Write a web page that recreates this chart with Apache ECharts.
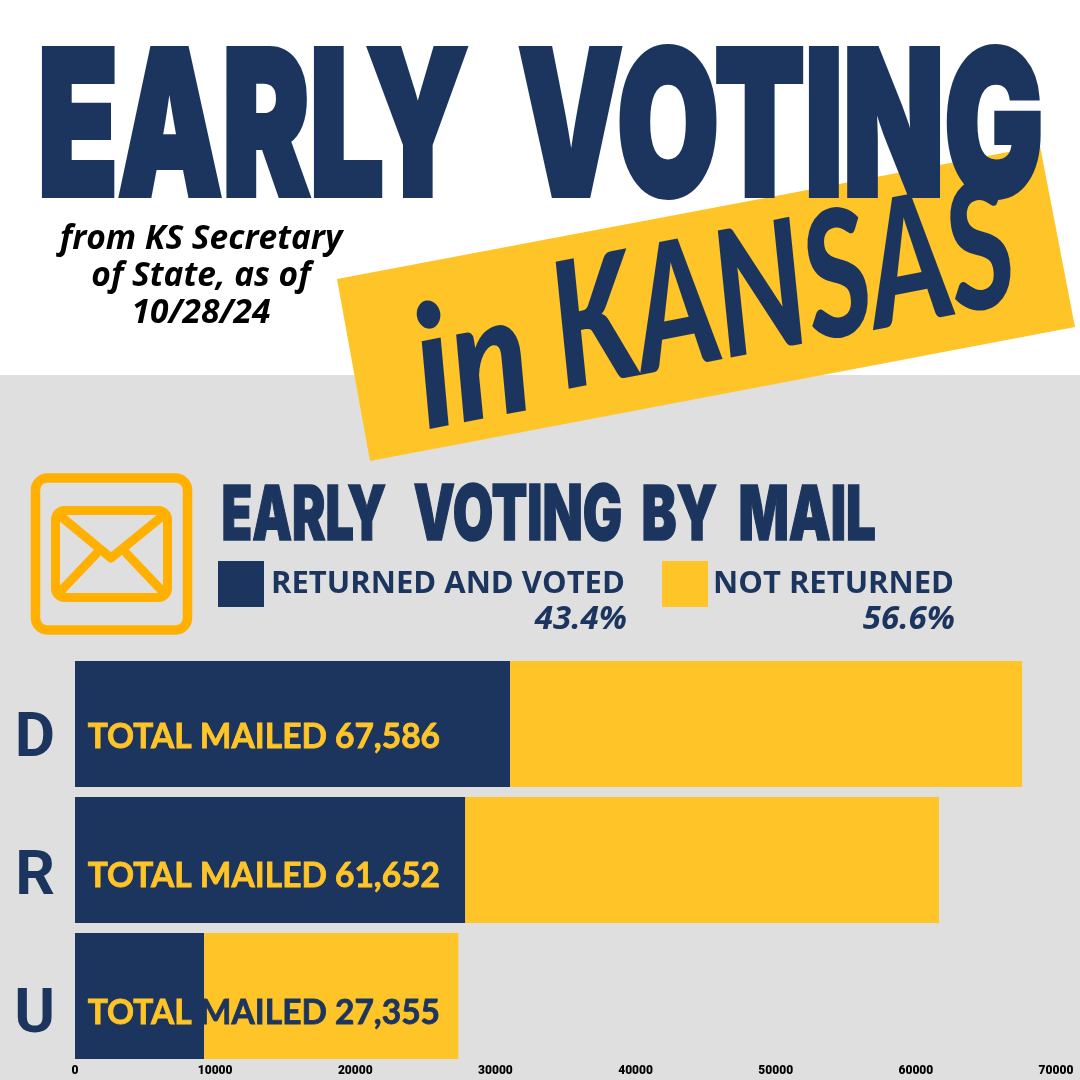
<!DOCTYPE html>
<html><head><meta charset="utf-8">
<style>html,body{margin:0;padding:0;background:#fff}#c{width:1080px;height:1080px}</style>
<script src="https://cdn.jsdelivr.net/npm/echarts@6/dist/echarts.min.js"></script>
</head><body><div id="c"></div>
<script>
const categories = ['D', 'R', 'U'];
const totals = [67586, 61652, 27355];
const returned = [31050, 27850, 9220];
const notReturned = [36536, 33802, 18135];
const tickMax = 70000, tickStep = 10000;
const seriesNames = ['RETURNED AND VOTED', 'NOT RETURNED'];
const shares = ['43.4%', '56.6%'];

const NAVY = '#1c355e', GOLD = '#ffc428', ORANGE = '#ffb000', GREY = '#dfdfdf';
const catOffset = {D: 16, R: 18, U: 20};
const labelDy = [13, 16, 17];
const fmt = n => n.toLocaleString('en-US');

const ctx = document.createElement('canvas').getContext('2d');
// Fit the ink box of a string (plus its local stroke lw) into [x0,x1]x[y0,y1]
function fit(text, font, x0, x1, y0, y1, color, lw) {
  ctx.font = font; ctx.textBaseline = 'middle'; ctx.textAlign = 'left';
  const m = ctx.measureText(text);
  const sx = (x1 - x0) / (m.actualBoundingBoxLeft + m.actualBoundingBoxRight + lw);
  const sy = (y1 - y0) / (m.actualBoundingBoxAscent + m.actualBoundingBoxDescent + lw);
  return {
    type: 'text', z: 5,
    x: x0 + (m.actualBoundingBoxLeft + lw / 2) * sx,
    y: y0 + (m.actualBoundingBoxAscent + lw / 2) * sy,
    scaleX: sx, scaleY: sy,
    style: {text, font, fill: color, stroke: color, lineWidth: lw,
            align: 'left', verticalAlign: 'middle', lineJoin: 'miter'}
  };
}
const HEAVY = '900 100px Inter';

function tilted(text, x, y, sx, sy) {
  return {type: 'text', z: 6, x, y, rotation: 0.19, scaleX: sx, scaleY: sy,
    style: {text, font: 'italic 900 100px Lato', fill: NAVY,
            align: 'center', verticalAlign: 'middle'}};
}
function line(shape, lw) {
  return {type: 'polyline', z: 5, shape: {points: shape},
    style: {stroke: ORANGE, lineWidth: lw, fill: null, lineJoin: 'round', lineCap: 'round'}};
}

const graphics = [
  {type: 'rect', z: -10, shape: {x: 0, y: 375, width: 1080, height: 705}, style: {fill: GREY}},
  {type: 'polygon', z: 1, shape: {points: [[337, 279], [1040, 146], [1075, 327], [370, 461]]}, style: {fill: GOLD}},
  fit('EARLY', HEAVY, 41, 468, 45, 198, NAVY, 3),
  fit('VOTING', HEAVY, 519, 1041, 43, 200, NAVY, 3),
  tilted('in', 472, 365, 1.42, 1.7),
  tilted('KANSAS', 783, 290, 1.26, 1.75),
  {type: 'text', z: 5, x: 201, y: 276, style: {
    text: 'from KS Secretary\nof State, as of\n10/28/24', font: 'italic 700 33.5px "Open Sans"', lineHeight: 37,
    fill: '#000', align: 'center', verticalAlign: 'middle'}},
  fit('EARLY', HEAVY, 223, 386, 484, 541, NAVY, 2),
  fit('VOTING', HEAVY, 414, 621, 483, 542, NAVY, 2),
  fit('BY', HEAVY, 643, 717, 484, 541, NAVY, 2),
  fit('MAIL', HEAVY, 740, 875, 484, 541, NAVY, 2),
  {type: 'rect', z: 5, shape: {x: 35.5, y: 478, width: 152, height: 152, r: 12},
    style: {fill: null, stroke: ORANGE, lineWidth: 9.5}},
  {type: 'rect', z: 5, shape: {x: 55.5, y: 510.5, width: 112, height: 87, r: 9},
    style: {fill: null, stroke: ORANGE, lineWidth: 9}},
  line([[58, 514], [111, 558], [165, 514]], 9),
  line([[58, 594], [96, 554]], 9),
  line([[165, 594], [127, 554]], 9),
  {type: 'text', z: 5, x: 627, y: 620, style: {text: shares[0], font: 'italic 700 33px "Open Sans"', fill: NAVY, align: 'right', verticalAlign: 'middle'}},
  {type: 'text', z: 5, x: 955, y: 620, style: {text: shares[1], font: 'italic 700 33px "Open Sans"', fill: NAVY, align: 'right', verticalAlign: 'middle'}}
];

const legendBase = {top: 561, padding: 0, itemWidth: 46, itemHeight: 46, icon: 'rect', itemGap: 0, selectedMode: false};
const legendText = pad => ({color: NAVY, fontFamily: 'Open Sans', fontWeight: 700, fontSize: 31, padding: [8, 0, 0, pad]});

const labelRich = c => ({color: c, fontFamily: 'Lato', fontWeight: 700, fontSize: 33.5,
  textBorderColor: c, textBorderWidth: 0.8});

const chart = echarts.init(document.getElementById('c'), null, {renderer: 'canvas'});
chart.setOption({
  animation: false,
  backgroundColor: '#ffffff',
  graphic: {elements: graphics},
  legend: [
    {...legendBase, left: 218, data: [seriesNames[0]], textStyle: legendText(2)},
    {...legendBase, left: 662, data: [seriesNames[1]], textStyle: legendText(0)}
  ],
  grid: {left: 75, top: 656, width: 981, height: 408, containLabel: false},
  xAxis: {type: 'value', min: 0, max: tickMax, interval: tickStep,
    axisLine: {show: false}, axisTick: {show: false}, splitLine: {show: false},
    axisLabel: {margin: 1, color: '#000', fontFamily: 'Roboto', fontWeight: 900, fontSize: 12, formatter: v => String(v)}},
  yAxis: {type: 'category', inverse: true, data: categories,
    axisLine: {show: false}, axisTick: {show: false},
    axisLabel: {margin: 20, align: 'right',
      formatter: v => '{' + v + '|' + v + '}',
      rich: Object.fromEntries(categories.map(c => [c, {
        color: NAVY, fontFamily: 'Roboto', fontWeight: 700, fontSize: 62, padding: [catOffset[c] * 2, 0, 0, 0]}]))}},
  series: [
    {name: seriesNames[0], type: 'bar', stack: 't', barWidth: 126, itemStyle: {color: NAVY},
     data: returned.map((v, i) => ({value: v, label: {
       show: true, position: [365, 63 + labelDy[i]], align: 'right', verticalAlign: 'middle',
       formatter: () => i === 2
         ? '{y|TOTAL }{n|MAILED ' + fmt(totals[i]) + '}'
         : '{y|TOTAL MAILED ' + fmt(totals[i]) + '}',
       rich: {y: labelRich(GOLD), n: labelRich(NAVY)}}}))},
    {name: seriesNames[1], type: 'bar', stack: 't', barWidth: 126, itemStyle: {color: GOLD}, data: notReturned}
  ]
});
</script></body></html>
